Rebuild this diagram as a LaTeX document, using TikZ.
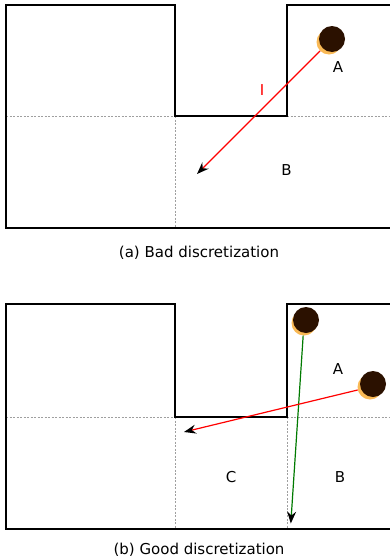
\documentclass[tikz,border=0pt]{standalone}
\usepackage{fontspec}
\setmainfont{DejaVu Sans}
\usetikzlibrary{arrows.meta, positioning}

\definecolor{balldark}{HTML}{2B1100}
\definecolor{ballhalo}{HTML}{F9B955}
\definecolor{raygreen}{HTML}{007A00}

\tikzset{
  wall/.style={line width=1.6pt, black, line join=miter},
  cellline/.style={gray!75, line width=0.8pt, dash pattern=on 2pt off 1.5pt},
  halo/.style={circle, fill=ballhalo, inner sep=0pt, minimum size=25pt},
  ball/.style={circle, fill=balldark, inner sep=0pt, minimum size=26pt},
  ray/.style={line width=1.2pt, -{Stealth[black, length=12pt, width=9pt, inset=4pt]}},
  lbl/.style={font=\fontsize{15}{18}\selectfont},
  caption/.style={font=\fontsize{15}{18}\selectfont}
}

\begin{document}
\begin{tikzpicture}[x=1pt,y=-1pt]
    \useasboundingbox (0,0) rectangle (390,560);
    % (a) bad discretization
    \draw[cellline](6,116)--(175,116) (287,116)--(390,116);
    \draw[cellline](175,116)--(175,228);
    \draw[wall](390,228)--(6,228)--(6,5)--(175,5)--(175,116)
               --(287,116)--(287,5)--(390,5);
    \node[halo](haloA)at(329,42){};
    \node[ball](ballA)at(332,39){};
    \coordinate(endA)at(197,174);
    \draw[ray,red](haloA)--(endA);
    \node[lbl,text=red](labI)at(262,90.5){I};
    \node[lbl](labA1)at(338,67){A};
    \node[lbl](labB1)at(286.5,170){B};
    \node[caption](capa)at(199,252.5){(a) Bad discretization};
    % (b) good discretization
    \draw[cellline](6,417)--(175,417) (287,417)--(390,417);
    \draw[cellline](175,417)--(175,529) (287,417)--(287,529);
    \draw[wall](390,529)--(6,529)--(6,304)--(175,304)--(175,417)
               --(287,417)--(287,304)--(390,304);
    \node[halo](haloB)at(304,323){};
    \node[ball](ballB)at(306,320){};
    \node[halo](haloC)at(370,387){};
    \node[ball](ballC)at(373,384){};
    \coordinate(endB)at(290.8,523.5);
    \coordinate(endC)at(184,432);
    \draw[ray,raygreen](haloB)--(endB);
    \draw[ray,red](haloC)--(endC);
    \node[lbl](labA2)at(338,369){A};
    \node[lbl](labC2)at(231,477){C};
    \node[lbl](labB2)at(340,477){B};
    \node[caption](capb)at(199,549.5){(b) Good discretization};
\end{tikzpicture}
\end{document}
